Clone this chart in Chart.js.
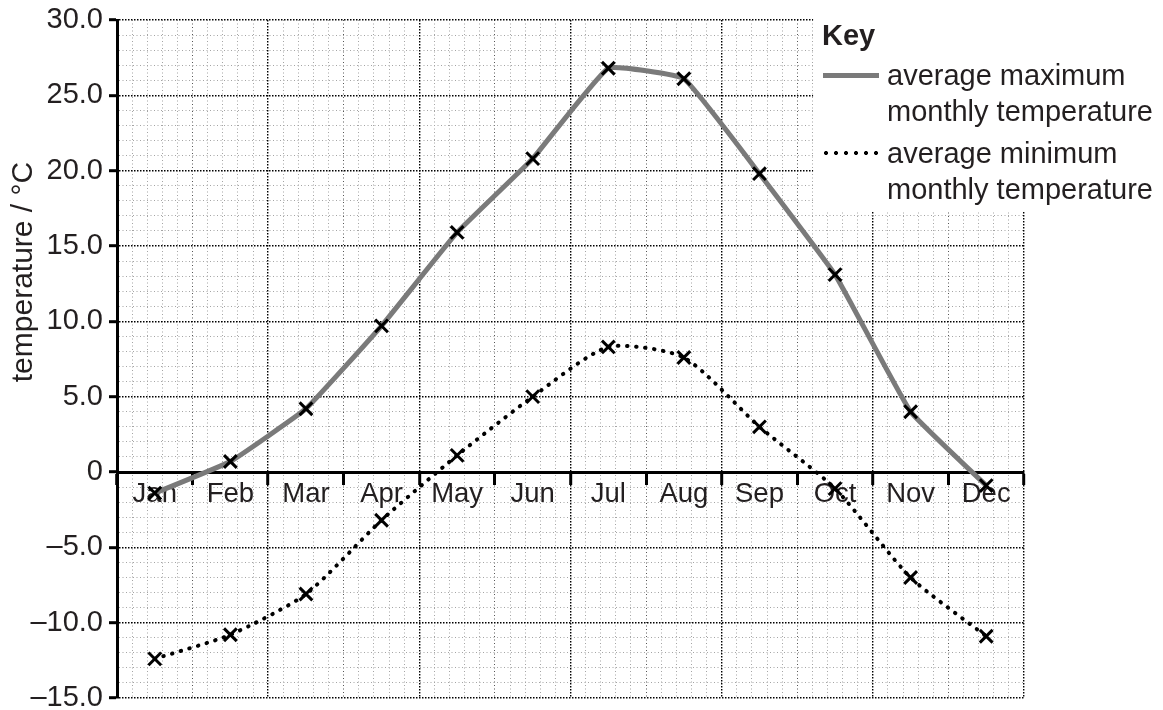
<!DOCTYPE html>
<html>
<head>
<meta charset="utf-8">
<title>Average monthly temperature</title>
<script src="https://cdn.jsdelivr.net/npm/chart.js@4.4.1/dist/chart.umd.min.js"></script>
<style>
    html, body { margin: 0; padding: 0; background: #fff; }
    #wrap { position: relative; width: 1163px; height: 710px; overflow: hidden; }
    #chartTemp { position: absolute; left: 0; top: 0; }
    .key { position: absolute; font-family: 'Liberation Sans', Arial, sans-serif; color: #231f20; }
    .key-title { left: 822px; top: 21px; font-size: 29px; font-weight: bold; line-height: 28px; }
    .key-text { left: 887px; font-size: 29px; line-height: 36px; white-space: nowrap; }
    .key-solid { left: 823px; width: 56px; height: 5px; background: #7a7a7a; }
    .key-dots { left: 821px; width: 60px; height: 6px;
        background: radial-gradient(circle, #000 1.7px, transparent 2.3px) 0 0 / 10px 6px repeat-x; }
    #yTitle { position: absolute; left: -128px; top: 257px; width: 300px; height: 30px;
        line-height: 30px; text-align: center; font-size: 30px; color: #231f20;
        font-family: 'Liberation Sans', Arial, sans-serif; transform: rotate(-90deg); white-space: nowrap; }
</style>
</head>
<body>
<div id="wrap">
    <canvas id="chartTemp" width="1163" height="710"></canvas>
    <div id="yTitle"></div>
    <div id="chartKey"></div>
</div>
<script>
var months = ['Jan', 'Feb', 'Mar', 'Apr', 'May', 'Jun', 'Jul', 'Aug', 'Sep', 'Oct', 'Nov', 'Dec'];
var maxTemps = [-1.4, 0.7, 4.2, 9.7, 15.9, 20.8, 26.8, 26.1, 19.8, 13.1, 4.0, -0.9];
var minTemps = [-12.4, -10.8, -8.1, -3.2, 1.1, 5.0, 8.3, 7.6, 3.0, -1.1, -7.0, -10.9];
var seriesNames = [
    ['average maximum', 'monthly temperature'],
    ['average minimum', 'monthly temperature']
];
var yTitle = 'temperature / \u00B0C';
var yMin = -15;
var yMax = 30;

var textColor = '#231f20';
var fontFamily = "'Liberation Sans', Arial, sans-serif";

function toPoints(values) {
    return values.map(function (v, i) { return { x: i + 0.5, y: v }; });
}

// tick value -> step index (x steps are tenths of a month)
function xStep(ctx) { return Math.round(ctx.tick.value * 10); }
function yStep(ctx) { return Math.round(ctx.tick.value); }

var legendCover = {
    id: 'legendCover',
    beforeDatasetsDraw: function (chart) {
        var x = chart.scales.x.getPixelForValue(9.2) + 0.8;
        var y = chart.scales.y.getPixelForValue(17.3);
        var ctx = chart.ctx;
        ctx.save();
        ctx.fillStyle = '#fff';
        ctx.fillRect(x, 0, chart.width - x, y);
        ctx.restore();
    }
};

function buildKey() {
    document.getElementById('yTitle').textContent = yTitle;
    var key = document.getElementById('chartKey');
    var html = '<div class="key key-title">Key</div>';
    html += '<div class="key key-solid" style="top:73px"></div>';
    html += '<div class="key key-text" style="top:57px">' + seriesNames[0].join('<br>') + '</div>';
    html += '<div class="key key-dots" style="top:150px"></div>';
    html += '<div class="key key-text" style="top:135px">' + seriesNames[1].join('<br>') + '</div>';
    key.innerHTML = html;
}

document.addEventListener('DOMContentLoaded', function () {
    buildKey();

    new Chart(document.getElementById('chartTemp'), {
        type: 'line',
        data: {
            datasets: [
                {
                    label: seriesNames[1].join(' '),
                    data: toPoints(minTemps),
                    borderColor: '#000',
                    borderWidth: 4,
                    borderDash: [0.5, 8.5],
                    borderCapStyle: 'round',
                    tension: 0.22,
                    fill: false,
                    pointStyle: 'crossRot',
                    pointRadius: 9,
                    pointBorderWidth: 3,
                    pointBorderColor: '#000',
                    pointBackgroundColor: '#000'
                },
                {
                    label: seriesNames[0].join(' '),
                    data: toPoints(maxTemps),
                    borderColor: '#7a7a7a',
                    borderWidth: 5,
                    tension: 0.1,
                    fill: false,
                    pointStyle: 'crossRot',
                    pointRadius: 9,
                    pointBorderWidth: 3,
                    pointBorderColor: '#000',
                    pointBackgroundColor: '#000'
                }
            ]
        },
        options: {
            responsive: false,
            animation: false,
            layout: { padding: { top: 20, right: 139, bottom: 10, left: 0 } },
            plugins: {
                legend: { display: false },
                tooltip: { enabled: false }
            },
            scales: {
                x: {
                    type: 'linear',
                    position: { y: 0 },
                    min: 0,
                    max: months.length,
                    afterFit: function (scale) {
                        scale.paddingLeft = 0;
                        scale.paddingRight = 0;
                        scale.paddingTop = 0;
                        scale.paddingBottom = 0;
                    },
                    border: {
                        display: true,
                        color: '#000',
                        width: 3,
                        dash: function (ctx) {
                            if (!ctx.tick) return [];
                            return xStep(ctx) % 20 === 0 ? [1.5, 1.5] : [1, 2.5];
                        }
                    },
                    grid: {
                        color: function (ctx) {
                            var k = xStep(ctx);
                            if (k % 2 !== 0) return 'rgba(0,0,0,0)';
                            if (k % 20 === 0) return '#000';
                            if (k % 10 === 0) return '#555';
                            return '#a4a4a4';
                        },
                        lineWidth: function (ctx) { return xStep(ctx) % 20 === 0 ? 1.4 : 1; },
                        tickLength: 11,
                        tickWidth: 3,
                        tickColor: function (ctx) { return xStep(ctx) % 10 === 0 ? '#000' : 'rgba(0,0,0,0)'; }
                    },
                    ticks: {
                        stepSize: 0.1,
                        autoSkip: false,
                        maxRotation: 0,
                        minRotation: 0,
                        padding: -5,
                        color: textColor,
                        font: { family: fontFamily, size: 27.5 },
                        callback: function (value) {
                            var k = Math.round(value * 10);
                            return k % 10 === 5 ? months[(k - 5) / 10] : '';
                        }
                    }
                },
                y: {
                    type: 'linear',
                    min: yMin,
                    max: yMax,
                    afterFit: function (scale) {
                        scale.width = 117;
                        scale.paddingTop = 0;
                        scale.paddingBottom = 0;
                    },
                    border: {
                        display: true,
                        color: '#000',
                        width: 3,
                        dash: function (ctx) {
                            if (!ctx.tick) return [];
                            return yStep(ctx) % 5 === 0 ? [1.5, 1.5] : [1, 2.5];
                        }
                    },
                    grid: {
                        color: function (ctx) { return yStep(ctx) % 5 === 0 ? '#000' : '#a4a4a4'; },
                        lineWidth: function (ctx) { return yStep(ctx) % 5 === 0 ? 1.4 : 1; },
                        tickLength: 8,
                        tickWidth: 3,
                        tickColor: function (ctx) { return yStep(ctx) % 5 === 0 ? '#000' : 'rgba(0,0,0,0)'; }
                    },
                    ticks: {
                        stepSize: 1,
                        autoSkip: false,
                        padding: 6,
                        color: textColor,
                        font: { family: fontFamily, size: 29 },
                        callback: function (value) {
                            var k = Math.round(value);
                            if (k % 5 !== 0) return '';
                            if (k === 0) return '0';
                            return (k < 0 ? '\u2013' : '') + Math.abs(k).toFixed(1);
                        }
                    }
                }
            }
        },
        plugins: [legendCover]
    });
});
</script>
</body>
</html>
